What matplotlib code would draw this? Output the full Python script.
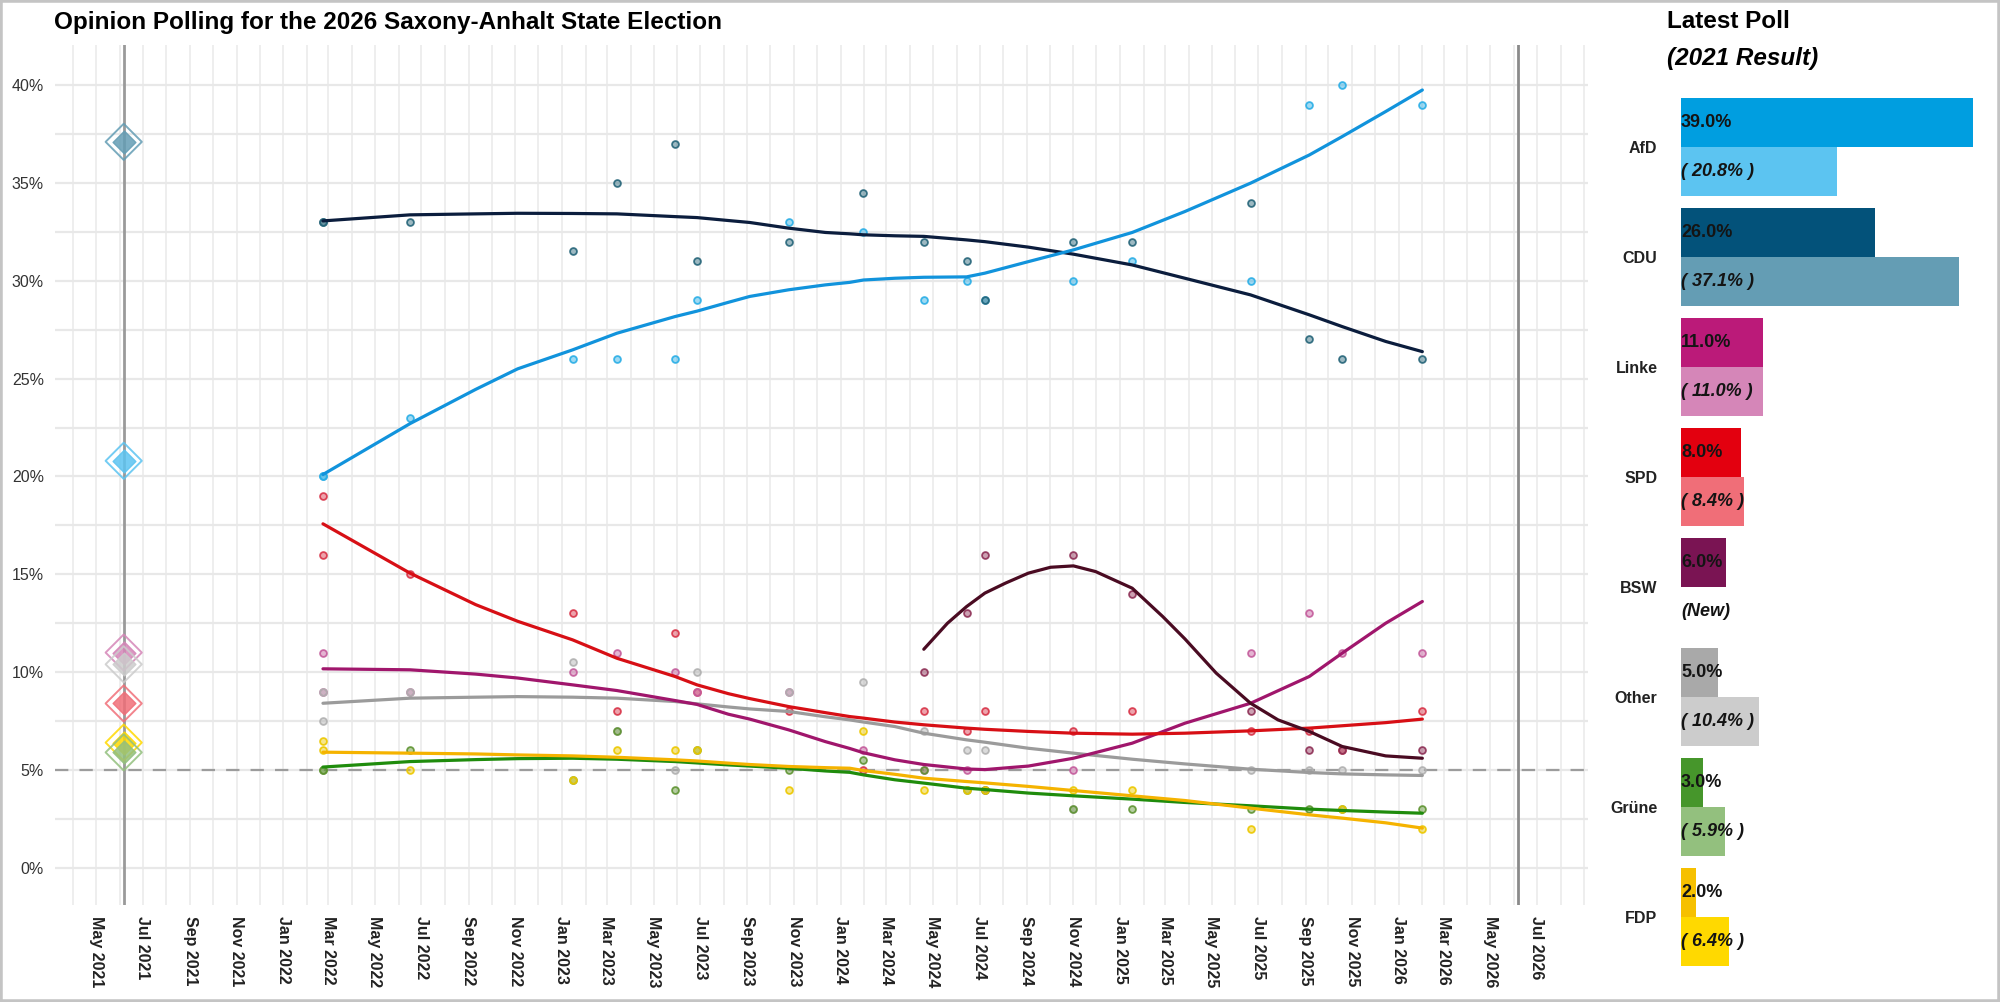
import numpy as np
import pandas as pd
import matplotlib
matplotlib.use("Agg")
import matplotlib.pyplot as plt
import matplotlib.dates as mdates
from matplotlib import font_manager
from matplotlib.colors import to_rgba
from matplotlib.patches import Rectangle
from matplotlib.ticker import MultipleLocator, FuncFormatter

# ---------------- data ----------------
poll_dates = ["2022-02-22", "2022-02-22", "2022-06-16", "2023-01-15", "2023-03-14",
              "2023-05-29", "2023-06-27", "2023-10-25", "2024-01-31", "2024-04-19",
              "2024-06-14", "2024-07-08", "2024-11-01", "2025-01-17", "2025-06-21",
              "2025-09-06", "2025-10-19", "2026-02-01"]
afd_polls = [20, 20, 23, 26, 26, 26, 29, 33, 32.5, 29, 30, 29, 30, 31, 30, 39, 40, 39]
cdu_polls = [33, 33, 33, 31.5, 35, 37, 31, 32, 34.5, 32, 31, 29, 32, 32, 34, 27, 26, 26]
spd_polls = [16, 19, 15, 13, 8, 12, 9, 8, 5, 8, 7, 8, 7, 8, 7, 7, 6, 8]
linke_polls = [11, 9, 9, 10, 11, 10, 9, 9, 6, 5, 5, 4, 5, None, 11, 13, 11, 11]
bsw_polls = [None, None, None, None, None, None, None, None, None,
             10, 13, 16, 16, 14, 8, 6, 6, 6]
other_polls = [9, 7.5, 9, 10.5, 7, 5, 10, 9, 9.5, 7, 6, 6, 3, None, 5, 5, 5, 5]
gruene_polls = [5, 5, 6, 4.5, 7, 4, 6, 5, 5.5, 5, 4, 4, 3, 3, 3, 3, 3, 3]
fdp_polls = [6, 6.5, 5, 4.5, 6, 6, 6, 4, 7, 4, 4, 4, 4, 4, 2, None, 3, 2]

# smoothed trend lines (values read at these dates)
trend_dates = ["2022-02-22", "2022-06-16", "2022-09-10", "2022-11-04", "2023-01-15",
               "2023-03-14", "2023-05-29", "2023-06-27", "2023-08-07", "2023-09-04",
               "2023-10-25", "2023-12-12", "2024-01-13", "2024-01-31", "2024-03-12",
               "2024-04-19", "2024-06-14", "2024-07-08", "2024-09-03", "2024-11-01",
               "2025-01-17", "2025-03-27", "2025-06-21", "2025-09-06", "2025-10-19",
               "2025-12-15", "2026-02-01"]
afd_trend = [20.1, 22.7, 24.45, 25.5, 26.47, 27.32, 28.17, 28.45, 28.9, 29.2, 29.54, 29.79,
             29.92, 30.04, 30.13, 30.18, 30.2, 30.39, 30.98, 31.58, 32.47, 33.54, 34.99,
             36.43, 37.37, 38.65, 39.75]
cdu_trend = [33.06, 33.37, 33.42, 33.45, 33.44, 33.42, 33.28, 33.23, 33.08, 32.98, 32.69,
             32.47, 32.4, 32.35, 32.3, 32.27, 32.09, 32.0, 31.72, 31.36, 30.81, 30.13,
             29.28, 28.26, 27.66, 26.9, 26.38]
spd_trend = [17.58, 15.06, 13.45, 12.6, 11.65, 10.71, 9.78, 9.35, 8.9, 8.65, 8.24, 7.93,
             7.73, 7.65, 7.45, 7.31, 7.14, 7.08, 6.97, 6.88, 6.83, 6.88, 7.0, 7.14, 7.26,
             7.42, 7.6]
linke_trend = [10.17, 10.12, 9.9, 9.7, 9.35, 9.06, 8.55, 8.35, 7.85, 7.6, 7.05, 6.45, 6.1,
               5.88, 5.52, 5.28, 5.05, 5.02, 5.2, 5.6, 6.37, 7.39, 8.41, 9.78, 10.97,
               12.5, 13.61]
other_trend = [8.41, 8.67, 8.72, 8.75, 8.72, 8.67, 8.5, 8.38, 8.22, 8.12, 7.99, 7.72, 7.56,
               7.45, 7.22, 6.88, 6.54, 6.42, 6.11, 5.86, 5.55, 5.31, 5.04, 4.87, 4.8,
               4.75, 4.72]
gruene_trend = [5.15, 5.43, 5.53, 5.58, 5.6, 5.55, 5.43, 5.36, 5.26, 5.2, 5.09, 4.95, 4.88,
                4.75, 4.5, 4.33, 4.07, 4.0, 3.82, 3.68, 3.51, 3.34, 3.17, 3.0, 2.93,
                2.85, 2.79]
fdp_trend = [5.91, 5.86, 5.82, 5.77, 5.72, 5.65, 5.52, 5.46, 5.35, 5.28, 5.18, 5.12, 5.09,
             4.97, 4.78, 4.58, 4.41, 4.34, 4.16, 3.95, 3.68, 3.44, 3.05, 2.71, 2.54,
             2.3, 2.03]
bsw_trend_dates = ["2024-04-19", "2024-05-20", "2024-06-14", "2024-07-08", "2024-08-04",
                   "2024-09-03", "2024-10-02", "2024-11-01", "2024-11-30", "2025-01-17",
                   "2025-02-26", "2025-03-27", "2025-05-07", "2025-06-21", "2025-07-27",
                   "2025-09-06", "2025-10-19", "2025-12-15", "2026-02-01"]
bsw_trend = [11.17, 12.5, 13.35, 14.04, 14.55, 15.06, 15.36, 15.43, 15.14, 14.29, 12.84,
             11.7, 9.95, 8.41, 7.56, 6.97, 6.2, 5.72, 5.6]

# right panel
parties = ["AfD", "CDU", "Linke", "SPD", "BSW", "Other", "Grüne", "FDP"]
latest_poll = [39.0, 26.0, 11.0, 8.0, 6.0, 5.0, 3.0, 2.0]
result_2021 = [20.8, 37.1, 11.0, 8.4, None, 10.4, 5.9, 6.4]

election_2021 = "2021-06-06"
election_2026 = "2026-06-06"
last_label = pd.Timestamp("2026-07-31")

# ---------------- colours ----------------
line_colors = {"AfD": "#1193dc", "CDU": "#0b1d3d", "SPD": "#d70f15", "Linke": "#a0166c",
               "BSW": "#4a0b22", "Other": "#9b9b9b", "Grüne": "#1f8c0c", "FDP": "#f5b300"}
point_colors = {"AfD": "#2aaee6", "CDU": "#266579", "SPD": "#d83448", "Linke": "#c45c9c",
                "BSW": "#8e3056", "Other": "#b0b0b0", "Grüne": "#5f9432", "FDP": "#ecc800"}
poll_bar_colors = ["#009ee0", "#03527a", "#bb1a79", "#e3000f", "#7a1453", "#a9a9a9",
                   "#46962b", "#f6c000"]
result_bar_colors = ["#5cc4f1", "#649db4", "#d586b8", "#f06e78", "#ffffff", "#cccccc",
                     "#93c07e", "#ffd900"]

plt.rcParams["font.family"] = ["Liberation Sans", "DejaVu Sans"]
names = {f.name for f in font_manager.fontManager.ttflist}
if "Liberation Sans Narrow" in names:
    title_font = ["Liberation Sans Narrow", "DejaVu Sans"]
    title_size = 21.3
else:
    title_font = ["Liberation Sans", "DejaVu Sans"]
    title_size = 17.5

fig = plt.figure(figsize=(20, 10.02), dpi=100)
fig.patch.set_facecolor("white")

# ---------------- main chart ----------------
ax = fig.add_axes([55 / 2000, 1 - 905 / 1002, 1533 / 2000, 860 / 1002])
ax.set_xlim(pd.Timestamp("2021-03-08"), pd.Timestamp("2026-09-06"))
ax.set_ylim(-1.9, 42.05)


def month_label(v, pos):
    d = mdates.num2date(v).replace(tzinfo=None)
    if d > last_label:
        return ""          # no label for the month the axis ends in
    return d.strftime("%b %Y")


ax.xaxis.set_major_locator(mdates.MonthLocator(bymonth=(1, 3, 5, 7, 9, 11)))
ax.xaxis.set_minor_locator(mdates.MonthLocator())
ax.xaxis.set_major_formatter(FuncFormatter(month_label))
ax.yaxis.set_major_locator(MultipleLocator(5))
ax.yaxis.set_minor_locator(MultipleLocator(2.5))
ax.yaxis.set_major_formatter(FuncFormatter(lambda v, p: f"{v:.0f}%"))
ax.grid(axis="x", which="both", color="#ebebeb", lw=1.2)
ax.grid(axis="y", which="both", color="#e8e8e8", lw=1.6)
ax.set_axisbelow(True)
for s in ax.spines.values():
    s.set_visible(False)
ax.tick_params(which="both", length=0)
ax.tick_params(axis="y", pad=8, labelsize=11.5, labelcolor="#333333")
ax.tick_params(axis="x", pad=8, labelsize=11.5, labelcolor="#222222")
for lab in ax.get_xticklabels():
    lab.set_rotation(-90)
    lab.set_fontweight("bold")
    lab.set_va("top")
    lab.set_ha("center")

# election markers
ax.axvline(pd.Timestamp(election_2021), color="#9a9a9a", lw=2, zorder=1)
ax.axvline(pd.Timestamp(election_2026), color="#8a8a8a", lw=2, zorder=1)
ax.axhline(5, color="#9c9c9c", lw=1.6, ls=(0, (6, 5)), zorder=1.5)

poll_dt = pd.to_datetime(poll_dates)
series = [("AfD", afd_polls), ("CDU", cdu_polls), ("SPD", spd_polls),
          ("Linke", linke_polls), ("BSW", bsw_polls), ("Other", other_polls),
          ("Grüne", gruene_polls), ("FDP", fdp_polls)]
for name, vals in series:
    d = [t for t, v in zip(poll_dt, vals) if v is not None]
    v = [v for v in vals if v is not None]
    ax.scatter(d, v, s=24, facecolor=to_rgba(point_colors[name], 0.45),
               edgecolor=to_rgba(point_colors[name], 0.9), lw=1.3, zorder=2)

trend_dt = pd.to_datetime(trend_dates)
trends = [("Other", other_trend), ("Grüne", gruene_trend), ("FDP", fdp_trend),
          ("Linke", linke_trend), ("SPD", spd_trend), ("CDU", cdu_trend),
          ("AfD", afd_trend)]
for name, vals in trends:
    ax.plot(trend_dt, vals, color=line_colors[name], lw=2.3, zorder=3,
            solid_capstyle="round", solid_joinstyle="round")
ax.plot(pd.to_datetime(bsw_trend_dates), bsw_trend, color=line_colors["BSW"], lw=2.3,
        zorder=3, solid_capstyle="round", solid_joinstyle="round")

# 2021 results as diamonds on the election line
diamond_order = [1, 0, 2, 5, 3, 7, 6]
for i in diamond_order:
    t = pd.Timestamp(election_2021)
    ax.scatter([t], [result_2021[i]], marker="D", s=340, facecolor="none",
               edgecolor=result_bar_colors[i], lw=1.4, alpha=0.85, zorder=4)
    ax.scatter([t], [result_2021[i]], marker="D", s=135, facecolor=result_bar_colors[i],
               edgecolor=result_bar_colors[i], lw=1, alpha=0.85, zorder=4)

fig.text(54 / 2000, 1 - 22 / 1002, "Opinion Polling for the 2026 Saxony-Anhalt State Election",
         ha="left", va="center", fontsize=title_size, fontweight="bold", family=title_font)

# ---------------- latest poll panel ----------------
px_per_pct = 7.48
bx = fig.add_axes([1681 / 2000, 1 - 972 / 1002, 300 / 2000, 880 / 1002])
bx.set_xlim(0, 300 / px_per_pct)
bx.set_ylim(7.5, -0.5)
y = np.arange(len(parties))
h = 49 / 110
bx.barh(y - h / 2, latest_poll, height=h, color=poll_bar_colors)
res_y = [yy + h / 2 for yy, r in zip(y, result_2021) if r is not None]
res_v = [r for r in result_2021 if r is not None]
res_c = [c for c, r in zip(result_bar_colors, result_2021) if r is not None]
bx.barh(res_y, res_v, height=h, color=res_c)
for yy, v in zip(y, latest_poll):
    bx.text(0, yy - h / 2, f"{v:.1f}%", ha="left", va="center", fontsize=13,
            fontweight="bold", color="#141414")
for yy, r in zip(y, result_2021):
    txt = f"( {r:.1f}% )" if r is not None else "(New)"
    bx.text(0, yy + h / 2, txt, ha="left", va="center", fontsize=13,
            fontweight="bold", fontstyle="italic", color="#141414")
bx.set_yticks(y)
bx.set_yticklabels(parties, fontweight="bold", fontsize=11.5, color="#222222")
bx.tick_params(axis="y", length=0, pad=17)
bx.set_xticks([])
for s in bx.spines.values():
    s.set_visible(False)

fig.text(1667 / 2000, 1 - 22 / 1002, "Latest Poll", ha="left", va="center",
         fontsize=17.5, fontweight="bold")
fig.text(1667 / 2000, 1 - 58 / 1002, "(2021 Result)", ha="left", va="center",
         fontsize=17.5, fontweight="bold", fontstyle="italic")

# thin frame round the picture
fig.patches.append(Rectangle((0, 0), 1, 1, transform=fig.transFigure, fill=False,
                             edgecolor="#c4c4c4", lw=4))

fig.savefig("out.png", dpi=100)
